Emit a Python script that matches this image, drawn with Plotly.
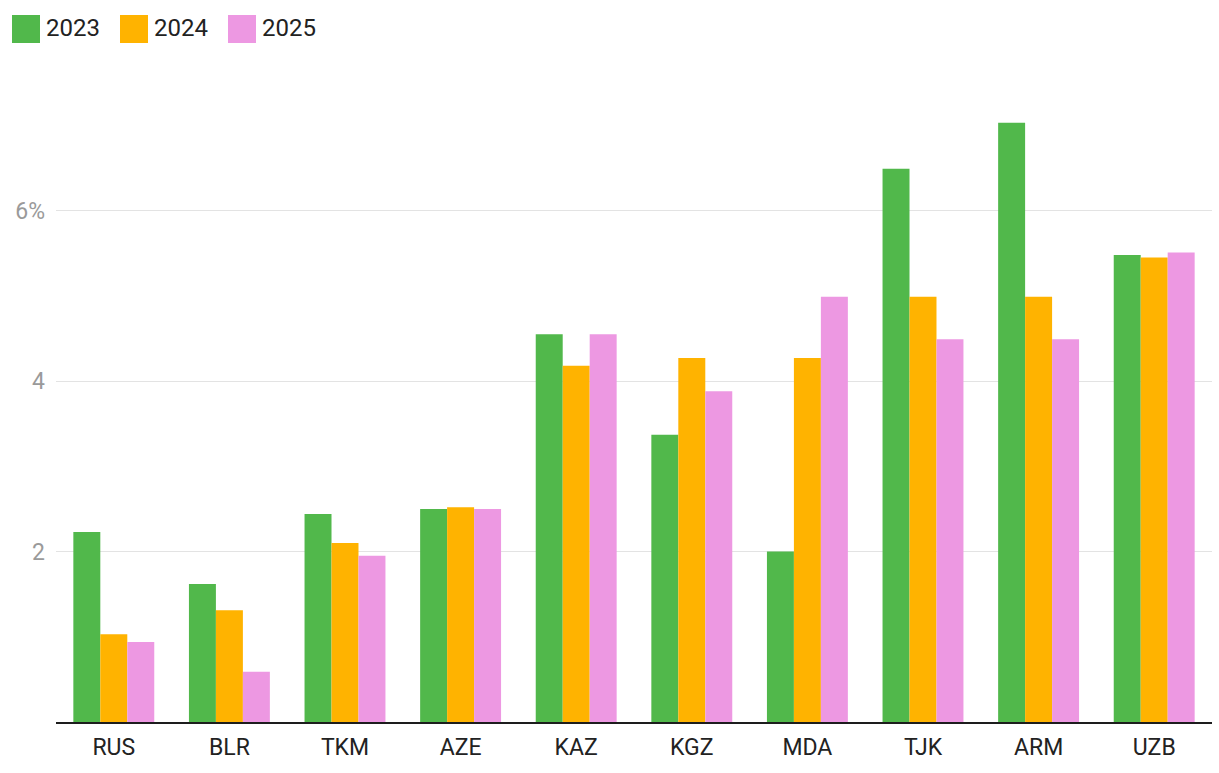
import plotly.graph_objects as go

categories = ["RUS", "BLR", "TKM", "AZE", "KAZ", "KGZ", "MDA", "TJK", "ARM", "UZB"]
years = ["2023", "2024", "2025"]
v2023 = [2.23, 1.62, 2.44, 2.50, 4.55, 3.37, 2.00, 6.49, 7.03, 5.48]
v2024 = [1.03, 1.31, 2.10, 2.52, 4.18, 4.27, 4.27, 4.99, 4.99, 5.45]
v2025 = [0.94, 0.59, 1.95, 2.50, 4.55, 3.88, 4.99, 4.49, 4.49, 5.51]
colors = ["#51b84b", "#ffb300", "#ed98e2"]
ytickvals = [2, 4, 6]
yticktext = ["2", "4", "6%"]

W, H = 1219, 773
ML, MR, MT, MB = 56, 7, 70, 51
FONT = "Roboto"

fig = go.Figure()
for name, vals, col in zip(years, [v2023, v2024, v2025], colors):
    fig.add_trace(go.Bar(x=categories, y=vals, name=name, marker_color=col,
                         marker_line_width=0, showlegend=False))

# manual legend (pixel positions converted to paper coords)
pw = W - ML - MR
ph = H - MT - MB
def px(x):
    return (x - ML) / pw
def py(y):
    return (H - MB - y) / ph

leg_x = [12, 120, 228]
for name, col, lx in zip(years, colors, leg_x):
    fig.add_shape(type="rect", xref="paper", yref="paper",
                  x0=px(lx), x1=px(lx + 28), y0=py(43), y1=py(15),
                  fillcolor=col, line_width=0)
    fig.add_annotation(xref="paper", yref="paper", x=px(lx + 32), y=py(28),
                       text=name, showarrow=False, xanchor="left", yanchor="middle",
                       font=dict(family=FONT, size=24, color="#222222"))

fig.update_layout(
    width=W, height=H,
    margin=dict(l=ML, r=MR, t=MT, b=MB),
    barmode="group", bargap=0.3, bargroupgap=0,
    plot_bgcolor="white", paper_bgcolor="white",
    font=dict(family=FONT),
)
fig.update_xaxes(showgrid=False, showline=True, linecolor="#1d1d1d", linewidth=2,
                 ticks="", ticklabelstandoff=3,
                 tickfont=dict(family=FONT, size=23, color="#222222"))
fig.update_yaxes(range=[0, 7.65], tickvals=ytickvals, ticktext=yticktext,
                 showgrid=True, gridcolor="#e3e3e3", gridwidth=1, zeroline=False,
                 ticks="", ticklabelstandoff=10,
                 tickfont=dict(family=FONT, size=23, color="#9a9a9a"))

fig.write_html("out.html", config={"displayModeBar": False},
               post_script="document.body.style.margin='0';")
